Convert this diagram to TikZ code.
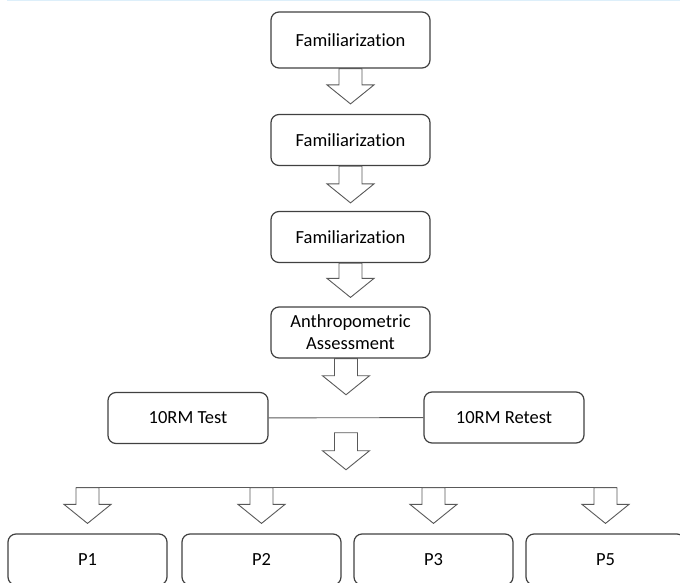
\documentclass[tikz,border=0pt]{standalone}
\usepackage{fontspec}
\setmainfont[Ligatures=NoCommon]{Carlito}
\usetikzlibrary{calc}

\definecolor{boxgray}{HTML}{404040}
\definecolor{arrowgray}{HTML}{595959}
\definecolor{rulblue}{HTML}{DDEFFA}

\tikzset{
  box/.style={draw=boxgray, line width=1.2pt, rounded corners=8pt,
    minimum width=159pt, minimum height=51pt, inner sep=0pt, align=center,
    font=\fontsize{18.5}{22}\selectfont},
  joinline/.style={draw=arrowgray, line width=0.9pt},
  blockarrow/.style={draw=arrowgray, line width=0.9pt, fill=white,
    to path={let \p1=(\tikztostart), \p2=(\tikztotarget) in
      ({\x1-11.5pt},\y1) -- ({\x1-11.5pt},{\y2+19pt}) -- ({\x1-23.5pt},{\y2+19pt})
      -- (\x1,\y2) -- ({\x1+23.5pt},{\y2+19pt}) -- ({\x1+11.5pt},{\y2+19pt})
      -- ({\x1+11.5pt},\y1) -- cycle}}
}

\begin{document}
\begin{tikzpicture}[x=1pt, y=-1pt]
  \clip (0,0) rectangle (680,583);
  \draw[rulblue, line width=1.5pt] (7,0.75) -- (680,0.75);
  % nodes
  \node (f1) [box, minimum height=56pt] at (350.5,40) {Familiarization};
  \node (f2) [box] at (350.5,140) {Familiarization};
  \node (f3) [box] at (350.5,237) {Familiarization};
  \node (anth) [box] at (350.5,332.5) {Anthropometric\\Assessment};
  \node (test) [box, minimum width=160pt] at (188,418) {10RM Test};
  \node (retest) [box, minimum width=160pt] at (504,417.5) {10RM Retest};
  \node (p1) [box] at (87.5,559.5) {P1};
  \node (p2) [box] at (261.5,559.5) {P2};
  \node (p3) [box] at (433.5,559.5) {P3};
  \node (p5) [box] at (605.5,559.5) {P5};
  \coordinate (link) at ($(test.east)!0.5!(retest.west)$);
  \coordinate (split) at ($(link)+(0,70)$);
  % arrows
  \draw[joinline] (test) -- (retest);
  \draw[blockarrow] (f1.south) to ([yshift=10pt]f2.north);
  \draw[blockarrow] (f2.south) to ([yshift=8pt]f3.north);
  \draw[blockarrow] (f3.south) to ([yshift=9pt]anth.north);
  \draw[blockarrow] (anth.south -| link) to ([yshift=23pt]link);
  \draw[blockarrow] ([yshift=-15pt]link) to ([yshift=18pt]split);
  \draw[joinline] ($(split -| p1)+(-11.5,0)$) -- ($(split -| p5)+(11.5,0)$);
  \foreach \p in {p1,p2,p3,p5}
    \draw[blockarrow] (split -| \p) to ([yshift=10pt]\p.north);
\end{tikzpicture}
\end{document}
